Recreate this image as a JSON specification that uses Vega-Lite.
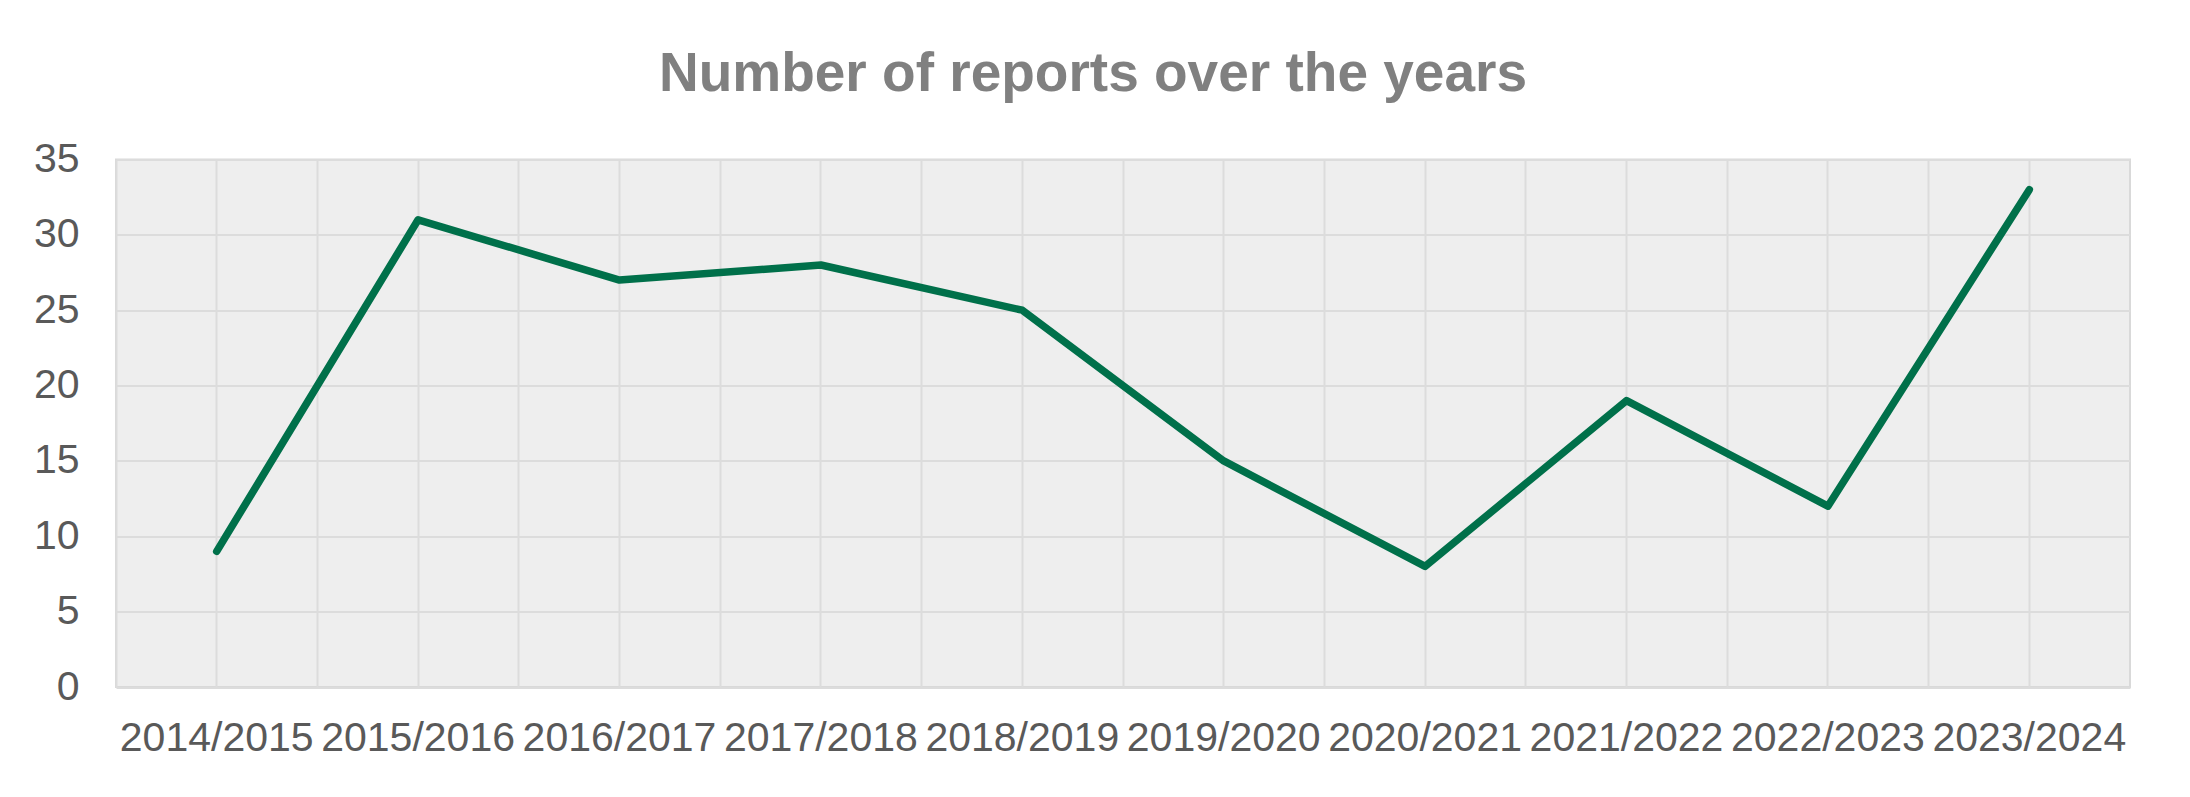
{
  "$schema": "https://vega.github.io/schema/vega-lite/v6.json",
  "width": 2014,
  "height": 527.5,
  "autosize": {"type": "none"},
  "padding": {"left": 116, "top": 159.5, "right": 60, "bottom": 110},
  "background": "white",
  "title": {
    "text": "Number of reports over the years",
    "font": "Liberation Sans",
    "fontWeight": "bold",
    "fontSize": 55,
    "color": "#808080",
    "anchor": "middle",
    "frame": "group",
    "dx": -30,
    "baseline": "alphabetic",
    "offset": -7
  },
  "data": {
    "values": [
      {"year": "2014/2015", "reports": 9},
      {"year": "2015/2016", "reports": 31},
      {"year": "2016/2017", "reports": 27},
      {"year": "2017/2018", "reports": 28},
      {"year": "2018/2019", "reports": 25},
      {"year": "2019/2020", "reports": 15},
      {"year": "2020/2021", "reports": 8},
      {"year": "2021/2022", "reports": 19},
      {"year": "2022/2023", "reports": 12},
      {"year": "2023/2024", "reports": 33}
    ]
  },
  "layer": [
    {
      "mark": {"type": "line", "opacity": 0},
      "encoding": {
        "x": {
          "field": "year", "type": "ordinal", "sort": null,
          "scale": {"type": "band", "paddingInner": 0, "paddingOuter": 0},
          "axis": {"orient": "bottom", "grid": true, "bandPosition": 0, "labels": false, "ticks": false, "domain": false, "title": null, "gridColor": "#dcdcdc", "gridWidth": 2}
        },
        "y": {
          "field": "reports", "type": "quantitative",
          "scale": {"domain": [0, 35], "nice": false},
          "axis": {
            "values": [0, 5, 10, 15, 20, 25, 30, 35],
            "title": null,
            "grid": true,
            "gridColor": "#dcdcdc",
            "gridWidth": 2,
            "ticks": false,
            "domain": false,
            "labelFont": "Liberation Sans",
            "labelFontSize": 41,
            "labelColor": "#595959",
            "labelPadding": 37
          }
        }
      }
    },
    {
      "mark": {"type": "line", "color": "#00704A", "strokeWidth": 7.5, "strokeCap": "round", "strokeJoin": "round"},
      "encoding": {
        "x": {
          "field": "year", "type": "ordinal", "sort": null,
          "scale": {"type": "band", "paddingInner": 0, "paddingOuter": 0},
          "axis": {"orient": "bottom", "grid": true, "bandPosition": 0.5, "labelAngle": 0, "labelFont": "Liberation Sans", "labelFontSize": 41, "labelColor": "#595959", "labelPadding": 31, "labelBaseline": "top", "labelLimit": 500, "ticks": false, "domain": false, "title": null, "gridColor": "#dcdcdc", "gridWidth": 2, "labelOverlap": false}
        },
        "y": {
          "field": "reports", "type": "quantitative",
          "scale": {"domain": [0, 35], "nice": false},
          "axis": {
            "values": [0, 5, 10, 15, 20, 25, 30, 35],
            "title": null,
            "grid": true,
            "gridColor": "#dcdcdc",
            "gridWidth": 2,
            "ticks": false,
            "domain": false,
            "labelFont": "Liberation Sans",
            "labelFontSize": 41,
            "labelColor": "#595959",
            "labelPadding": 37
          }
        }
      }
    }
  ],
  "resolve": {"axis": {"x": "independent"}},
  "config": {
    "view": {"fill": "#eeeeee", "stroke": "#d9d9d9", "strokeWidth": 2}
  }
}
